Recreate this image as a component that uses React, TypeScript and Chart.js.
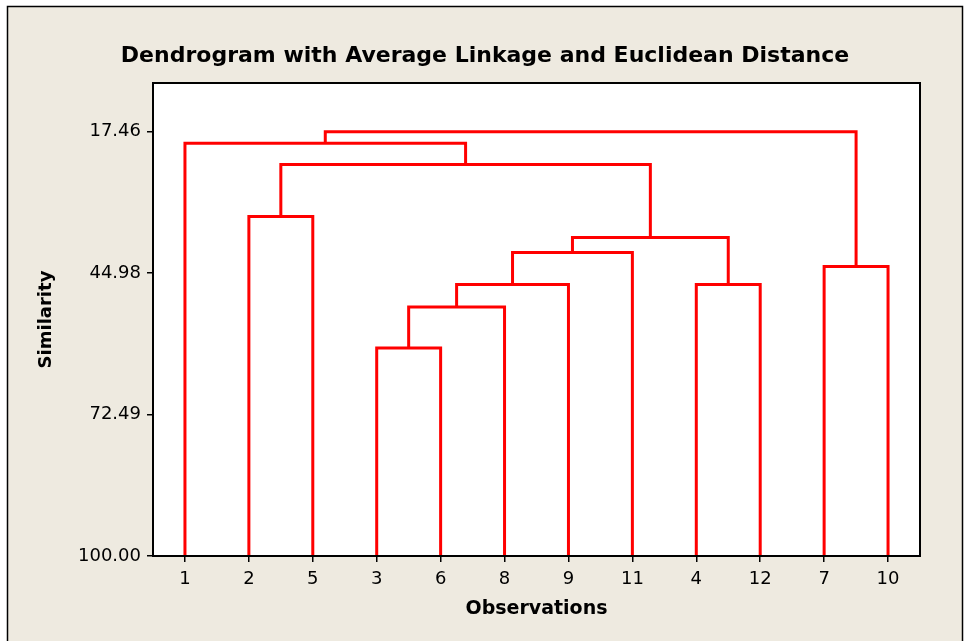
import { useEffect, useRef } from 'react';
import { Chart, registerables } from 'chart.js';

Chart.register(...registerables);

const TITLE = 'Dendrogram with Average Linkage and Euclidean Distance';
const X_TITLE = 'Observations';
const Y_TITLE = 'Similarity';

// Leaf order along the x axis (observation numbers)
const observations = ['1', '2', '5', '3', '6', '8', '9', '11', '4', '12', '7', '10'];

// Similarity ticks on the reversed y axis
const yTicks = [17.46, 44.98, 72.49, 100.0];

// Linkage steps. Ids 0..11 are leaves (their position in `observations`),
// each step creates a new cluster with the next id (12, 13, ...).
const mergeLeft = [3, 12, 13, 8, 10, 14, 17, 1, 19, 0, 21];
const mergeRight = [4, 5, 6, 9, 11, 7, 15, 2, 18, 20, 16];
const mergeSimilarity = [59.55, 51.56, 47.21, 47.18, 43.7, 40.98, 38.06, 33.97, 23.85, 19.7, 17.46];

const LEAF_LEVEL = 100;
const LINE_COLOR = '#FF0000';
const PANEL_BG = '#EEEAE0';
const FONT = "'DejaVu Sans', Verdana, sans-serif";

type Pt = { x: number; y: number };

function buildLinks(): Pt[][] {
  const xs: number[] = observations.map((_, i) => i);
  const hs: number[] = observations.map(() => LEAF_LEVEL);
  const links: Pt[][] = [];
  mergeLeft.forEach((l, k) => {
    const r = mergeRight[k];
    const s = mergeSimilarity[k];
    links.push([
      { x: xs[l], y: hs[l] },
      { x: xs[l], y: s },
      { x: xs[r], y: s },
      { x: xs[r], y: hs[r] },
    ]);
    xs.push((xs[l] + xs[r]) / 2);
    hs.push(s);
  });
  return links;
}

const framePlugin = {
  id: 'frame',
  beforeDraw(chart: any) {
    const { ctx, width, height, chartArea: a } = chart;
    ctx.save();
    ctx.fillStyle = '#ffffff';
    ctx.fillRect(0, 0, width, height);
    ctx.fillStyle = PANEL_BG;
    ctx.fillRect(7, 6, 956, height);
    ctx.strokeStyle = '#000000';
    ctx.lineWidth = 1.5;
    ctx.strokeRect(7.5, 6.5, 955, height + 20);
    ctx.fillStyle = '#ffffff';
    ctx.fillRect(a.left, a.top, a.right - a.left, a.bottom - a.top);
    ctx.fillStyle = '#000000';
    ctx.font = `bold 22px ${FONT}`;
    ctx.textAlign = 'center';
    ctx.textBaseline = 'alphabetic';
    ctx.fillText(TITLE, 485, 62);
    ctx.restore();
  },
  afterDatasetsDraw(chart: any) {
    const { ctx, chartArea: a } = chart;
    ctx.save();
    ctx.strokeStyle = '#000000';
    ctx.lineWidth = 2;
    ctx.strokeRect(a.left, a.top, a.right - a.left, a.bottom - a.top);
    ctx.restore();
  },
};

export default function App() {
  const canvasRef = useRef<HTMLCanvasElement | null>(null);

  useEffect(() => {
    const canvas = canvasRef.current;
    if (!canvas) return;
    const links = buildLinks();
    const chart = new Chart(canvas, {
      type: 'scatter',
      data: {
        datasets: links.map((pts) => ({
          data: pts,
          showLine: true,
          borderColor: LINE_COLOR,
          backgroundColor: LINE_COLOR,
          borderWidth: 3,
          pointRadius: 0,
          pointHoverRadius: 0,
          tension: 0,
          borderJoinStyle: 'miter' as const,
          borderCapStyle: 'butt' as const,
        })),
      },
      options: {
        animation: false,
        responsive: false,
        devicePixelRatio: 1,
        layout: { padding: { top: 83, right: 45, left: 0, bottom: 0 } },
        plugins: {
          legend: { display: false },
          tooltip: { enabled: false },
          title: { display: false },
        },
        scales: {
          x: {
            type: 'linear',
            min: -0.5,
            max: 11.5,
            afterBuildTicks: (scale: any) => {
              scale.ticks = observations.map((_, i) => ({ value: i }));
            },
            afterFit: (scale: any) => {
              scale.height = 85;
            },
            ticks: {
              callback: (v: any) => observations[Math.round(Number(v))] ?? '',
              color: '#000000',
              font: { family: FONT, size: 18 },
              padding: 7,
              maxRotation: 0,
              autoSkip: false,
            },
            grid: {
              display: true,
              drawOnChartArea: false,
              drawTicks: true,
              tickLength: 6,
              color: '#000000',
              lineWidth: 1.5,
            },
            border: { display: false },
            title: {
              display: true,
              text: X_TITLE,
              color: '#000000',
              font: { family: FONT, size: 19, weight: 'bold' },
              padding: { top: 0, bottom: 21 },
            },
          },
          y: {
            type: 'linear',
            reverse: true,
            min: 8,
            max: 100,
            afterBuildTicks: (scale: any) => {
              scale.ticks = yTicks.map((v) => ({ value: v }));
            },
            afterFit: (scale: any) => {
              scale.width = 153;
            },
            ticks: {
              callback: (v: any) => Number(v).toFixed(2),
              color: '#000000',
              font: { family: FONT, size: 18 },
              padding: 6,
              autoSkip: false,
            },
            grid: {
              display: true,
              drawOnChartArea: false,
              drawTicks: true,
              tickLength: 6,
              color: '#000000',
              lineWidth: 1.5,
            },
            border: { display: false },
            title: {
              display: true,
              text: Y_TITLE,
              color: '#000000',
              font: { family: FONT, size: 18, weight: 'bold' },
              padding: { top: 36, bottom: 0 },
            },
          },
        },
      },
      plugins: [framePlugin],
    });
    return () => chart.destroy();
  }, []);

  return (
    <div style={{ position: 'fixed', left: 0, top: 0, width: 965, height: 641 }}>
      <canvas ref={canvasRef} width={965} height={641} style={{ display: 'block' }} />
    </div>
  );
}
